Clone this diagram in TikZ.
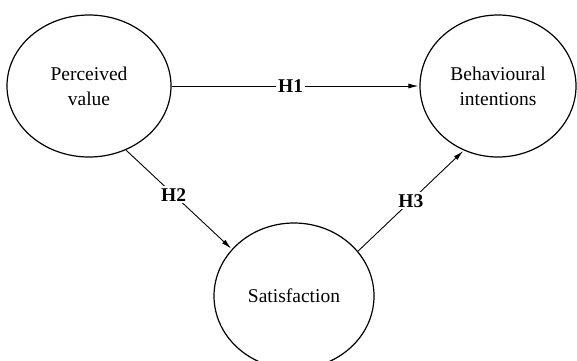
\documentclass[tikz,border=0pt]{standalone}
\usepackage{fontspec}
\setmainfont{Liberation Serif}
\usetikzlibrary{shapes.geometric,arrows.meta}
\begin{document}
\begin{tikzpicture}[x=1pt,y=-1pt,
  construct/.style={draw, ellipse, line width=1.2pt, inner sep=0pt, align=center,
    font=\fontsize{19.5}{25}\selectfont},
  path/.style={line width=0.9pt, -{Latex[length=10pt,width=5pt]}, shorten >=1pt},
  hyp/.style={fill=white, inner sep=2pt, font=\fontsize{19.5}{25}\selectfont\bfseries}]
\useasboundingbox[fill=white] (0,0) rectangle (577,360);
\node[construct, minimum width=164pt, minimum height=142pt] (PV) at (89,86) {Perceived\\value};
\node[construct, minimum width=156pt, minimum height=142pt] (BI) at (498,86) {Behavioural\\intentions};
\node[construct, minimum width=160pt, minimum height=146pt] (S) at (294,296) {Satisfaction};
\draw[path] (PV.east) -- node[hyp, pos=0.48] {H1} (BI.west);
\draw[path] (PV.-60) -- node[hyp, pos=0.45] {H2} (S.143);
\draw[path] (S.35) -- node[hyp, pos=0.5] {H3} (BI.242);
\end{tikzpicture}
\end{document}
